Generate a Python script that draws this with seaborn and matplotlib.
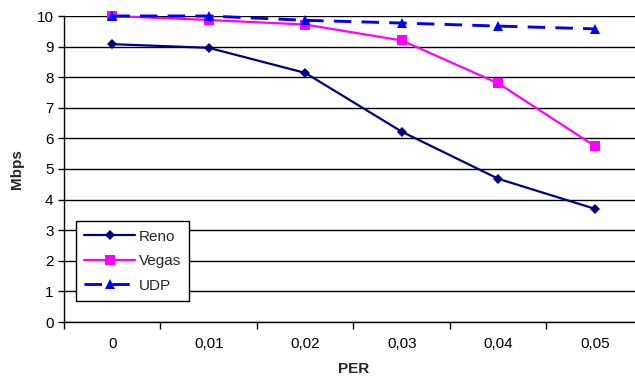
import matplotlib
matplotlib.use("Agg")
import matplotlib.pyplot as plt
import seaborn as sns
import pandas as pd
import numpy as np

per_labels = ["0", "0,01", "0,02", "0,03", "0,04", "0,05"]
reno = [9.08, 8.96, 8.14, 6.22, 4.68, 3.70]
vegas = [10.0, 9.87, 9.72, 9.20, 7.80, 5.75]
udp = [10.0, 10.0, 9.86, 9.77, 9.67, 9.58]

sns.set_theme(style="white")
plt.rcParams["font.family"] = ["Liberation Sans", "DejaVu Sans"]

pos = np.arange(len(per_labels))
df = pd.DataFrame({
    "pos": np.tile(pos, 3),
    "Mbps": reno + vegas + udp,
    "series": ["Reno"] * 6 + ["Vegas"] * 6 + ["UDP"] * 6,
})

fig = plt.figure(figsize=(6.35, 3.85), dpi=100)
ax = fig.add_axes([64 / 635, 63 / 385, 579 / 635, 306 / 385])

palette = {"Reno": "#000080", "Vegas": "#FF00FF", "UDP": "#0000FF"}
markers = {"Reno": "D", "Vegas": "s", "UDP": "^"}
dashes = {"Reno": "", "Vegas": "", "UDP": (6, 3.5)}

sns.lineplot(data=df, x="pos", y="Mbps", hue="series", style="series",
             palette=palette, markers=markers, dashes=dashes,
             linewidth=1.6, markersize=6.5, markeredgewidth=0, ax=ax,
             clip_on=False)


def restyle(lines):
    # thinner diamonds, heavier dashed UDP line
    for ln in lines:
        if ln.get_marker() == "D":
            ln.set_markersize(5.5)
        if ln.get_marker() == "^":
            ln.set_linewidth(2.1)
            ln.set_dashes((6, 3.5))


restyle(ax.lines)

ax.set_xlim(-0.5, 5.5)
ax.set_ylim(0, 10)
ax.set_yticks(range(0, 11))
ax.set_xticks(np.arange(-0.5, 6.0, 1.0))
ax.set_xticklabels([])
ax.set_xticks(pos, minor=True)
ax.set_xticklabels(per_labels, minor=True)
ax.tick_params(axis="x", which="major", direction="out", length=5, width=1, color="black", bottom=True)
ax.tick_params(axis="x", which="minor", length=0, pad=11, labelsize=11, colors="black")
ax.tick_params(axis="y", direction="out", length=4, width=1, color="black", left=True, labelsize=11, labelcolor="black")

ax.grid(axis="y", color="#000000", linewidth=1)
ax.set_axisbelow(True)
for side in ["top", "right"]:
    ax.spines[side].set_visible(False)
for side in ["left", "bottom"]:
    ax.spines[side].set_color("black")
    ax.spines[side].set_linewidth(1)

ax.set_xlabel("PER", fontsize=11, fontweight="bold", labelpad=8)
ax.set_ylabel("Mbps", fontsize=11, fontweight="bold", labelpad=9)

leg = ax.legend(loc="lower left", bbox_to_anchor=(12 / 579, 21 / 306),
                fontsize=11, frameon=True, fancybox=False, framealpha=1,
                edgecolor="black", handlelength=3.3, borderpad=0.55,
                labelspacing=0.68, handletextpad=0.25, borderaxespad=0)
leg.get_frame().set_linewidth(1)
restyle(leg.get_lines())

fig.savefig("out.png", dpi=100)
